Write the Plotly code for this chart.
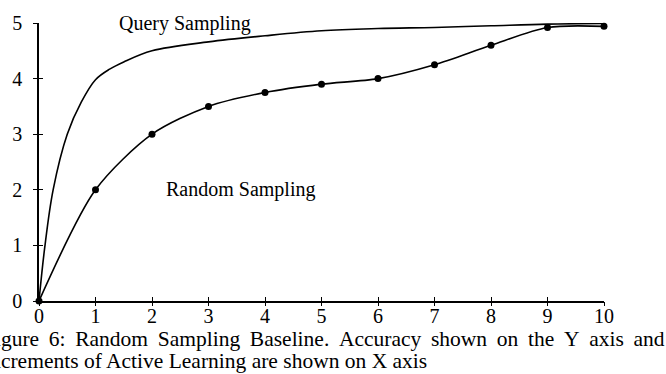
import plotly.graph_objects as go

# Data
random_x = [0, 1, 2, 3, 4, 5, 6, 7, 8, 9, 10]
random_y = [0, 2.0, 3.0, 3.5, 3.75, 3.9, 4.0, 4.25, 4.6, 4.92, 4.94]

query_x = [0, 0.1, 0.25, 0.5, 0.75, 1, 1.25, 1.5, 2, 3, 4, 5, 6, 7, 8, 9, 10]
query_y = [0, 0.95, 2.0, 3.0, 3.58, 3.98, 4.17, 4.3, 4.5, 4.66, 4.77, 4.86, 4.9, 4.92, 4.95, 4.98, 4.99]

x_ticks = [0, 1, 2, 3, 4, 5, 6, 7, 8, 9, 10]
y_ticks = [0, 1, 2, 3, 4, 5]

FONT = "Liberation Serif"
SP = "\u00a0\u2009"

fig = go.Figure()
fig.add_trace(go.Scatter(x=query_x, y=query_y, mode="lines",
                         line=dict(color="black", width=1.6, shape="spline", smoothing=1.0),
                         cliponaxis=False, showlegend=False, hoverinfo="skip"))
fig.add_trace(go.Scatter(x=random_x, y=random_y, mode="lines+markers",
                         line=dict(color="black", width=1.6, shape="spline", smoothing=0.8),
                         marker=dict(color="black", size=7),
                         cliponaxis=False, showlegend=False, hoverinfo="skip"))
# invisible trace to anchor overlay axes (crossing ticks)
fig.add_trace(go.Scatter(x=[0], y=[0], xaxis="x2", yaxis="y2", mode="markers",
                         marker=dict(opacity=0), showlegend=False, hoverinfo="skip"))

axis_common = dict(showgrid=False, zeroline=False, color="black",
                   tickfont=dict(family=FONT, size=20, color="black"))

fig.update_layout(
    width=666, height=374,
    margin=dict(l=37, r=62, t=17, b=73),
    paper_bgcolor="white", plot_bgcolor="white",
    xaxis=dict(range=[0, 10], tickvals=x_ticks, ticks="inside", ticklen=4, tickwidth=1.3,
               showline=True, linecolor="black", linewidth=1.6, ticklabelstandoff=-4,
               **axis_common),
    yaxis=dict(range=[0, 5], tickvals=y_ticks, ticks="outside", ticklen=4, tickwidth=1.3,
               showline=True, linecolor="black", linewidth=1.6, ticklabelstandoff=7,
               **axis_common),
    xaxis2=dict(range=[0, 10], tickvals=x_ticks, ticks="outside", ticklen=4, tickwidth=1.3,
                overlaying="x", anchor="y", side="bottom", showticklabels=False, showline=False,
                showgrid=False, zeroline=False, tickcolor="black"),
    yaxis2=dict(range=[0, 5], tickvals=y_ticks, ticks="inside", ticklen=4, tickwidth=1.3,
                overlaying="y", anchor="x", showticklabels=False, showline=False,
                showgrid=False, zeroline=False, tickcolor="black"),
)

fig.add_annotation(x=2.59, y=5.0, xref="x", yref="y", text="Query Sampling", showarrow=False,
                   font=dict(family=FONT, size=20, color="black"), xanchor="center", yanchor="middle")
fig.add_annotation(x=3.56, y=2.01, xref="x", yref="y", text="Random Sampling", showarrow=False,
                   font=dict(family=FONT, size=20, color="black"), xanchor="center", yanchor="middle")

cap1_words = ["Figure", "6:", "Random", "Sampling", "Baseline.", "Accuracy", "shown", "on", "the", "Y", "axis", "and"]
cap1 = SP.join(cap1_words)
cap2 = "Increments of Active Learning are shown on X axis"

fig.add_annotation(x=(666 - 37) / 567, y=(301 - 340) / 284, xref="paper", yref="paper", text=cap1,
                   showarrow=False, font=dict(family=FONT, size=21.5, color="black"),
                   xanchor="right", yanchor="middle", borderpad=0)
fig.add_annotation(x=(-20 - 37) / 567, y=(301 - 362) / 284, xref="paper", yref="paper", text=cap2,
                   showarrow=False, font=dict(family=FONT, size=21.5, color="black"),
                   xanchor="left", yanchor="middle", borderpad=0)

fig.write_html("out.html")
